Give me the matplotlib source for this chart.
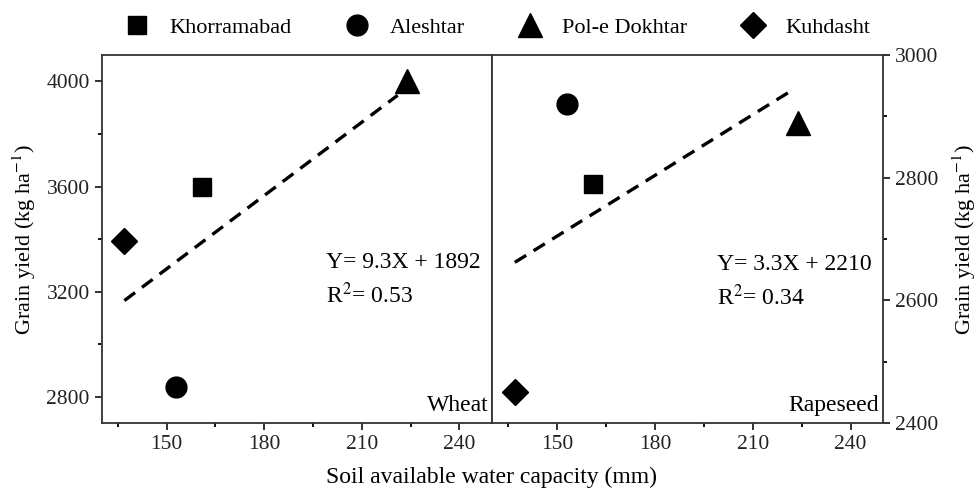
import matplotlib.pyplot as plt
from matplotlib.lines import Line2D

plt.rcParams['font.family'] = ['Liberation Serif', 'DejaVu Serif']
plt.rcParams['mathtext.fontset'] = 'stix'

# site data
sites = ['Khorramabad', 'Aleshtar', 'Pol-e Dokhtar', 'Kuhdasht']
markers = ['s', 'o', '^', 'D']
marker_sizes = [13, 15, 17, 13]
awc = [161, 153, 224, 137]            # soil available water capacity (mm)
wheat_yield = [3600, 2836, 4000, 3392]
rapeseed_yield = [2790, 2920, 2890, 2450]

# regressions
wheat_fit = (9.3, 1892)
rapeseed_fit = (3.3, 2210)
fit_x = [137, 221]

fig = plt.figure(figsize=(9.77, 4.88), dpi=100)
ax1 = fig.add_axes([0.104, 0.133, 0.3996, 0.754])
ax2 = fig.add_axes([0.5036, 0.133, 0.4004, 0.754])

for ax, yv, fit in [(ax1, wheat_yield, wheat_fit), (ax2, rapeseed_yield, rapeseed_fit)]:
    for i in range(len(sites)):
        ax.plot(awc[i], yv[i], marker=markers[i], ms=marker_sizes[i],
                color='black', ls='none')
    ax.plot(fit_x, [fit[0] * x + fit[1] for x in fit_x], color='black',
            lw=2.4, dashes=(4, 2.6))
    ax.set_xlim(130, 250)
    ax.set_xticks([150, 180, 210, 240])
    ax.set_xticks([135, 165, 195, 225], minor=True)
    ax.tick_params(labelsize=15.5, length=5, width=1.3, direction='out', colors='#222222')
    ax.tick_params(which='minor', length=3, width=1.3)
    for s in ax.spines.values():
        s.set_linewidth(1.3)
        s.set_color('#333333')

ax1.set_ylim(2700, 4100)
ax1.set_yticks([2800, 3200, 3600, 4000])
ax1.set_yticks([3000, 3400, 3800], minor=True)
ax1.set_ylabel('Grain yield (kg ha$^{-1}$)', fontsize=16, labelpad=6)
ax1.text(199, 3312, 'Y= 9.3X + 1892', fontsize=17, va='center')
ax1.text(199, 3186, 'R$^{2}$= 0.53', fontsize=17, va='center')
ax1.text(0.99, 0.02, 'Wheat', transform=ax1.transAxes, ha='right', va='bottom', fontsize=17)

ax2.set_ylim(2400, 3000)
ax2.set_yticks([2400, 2600, 2800, 3000])
ax2.set_yticks([2500, 2700, 2900], minor=True)
ax2.yaxis.tick_right()
ax2.yaxis.set_label_position('right')
ax2.set_ylabel('Grain yield (kg ha$^{-1}$)', fontsize=16, rotation=90, labelpad=9)
ax2.text(199, 2659, 'Y= 3.3X + 2210', fontsize=17, va='center')
ax2.text(199, 2605, 'R$^{2}$= 0.34', fontsize=17, va='center')
ax2.text(0.99, 0.02, 'Rapeseed', transform=ax2.transAxes, ha='right', va='bottom', fontsize=17)

fig.text(0.503, 0.0, 'Soil available water capacity (mm)', ha='center', va='bottom', fontsize=17)

handles = [Line2D([], [], marker=m, color='black', ls='none', ms=ms)
           for m, ms in zip(markers, marker_sizes)]
fig.legend(handles, sites, loc='center', bbox_to_anchor=(0.507, 0.943), ncol=4,
           frameon=False, fontsize=16, columnspacing=2.2, handletextpad=0.7,
           handlelength=1.5)

fig.savefig('out.png', dpi=100)
